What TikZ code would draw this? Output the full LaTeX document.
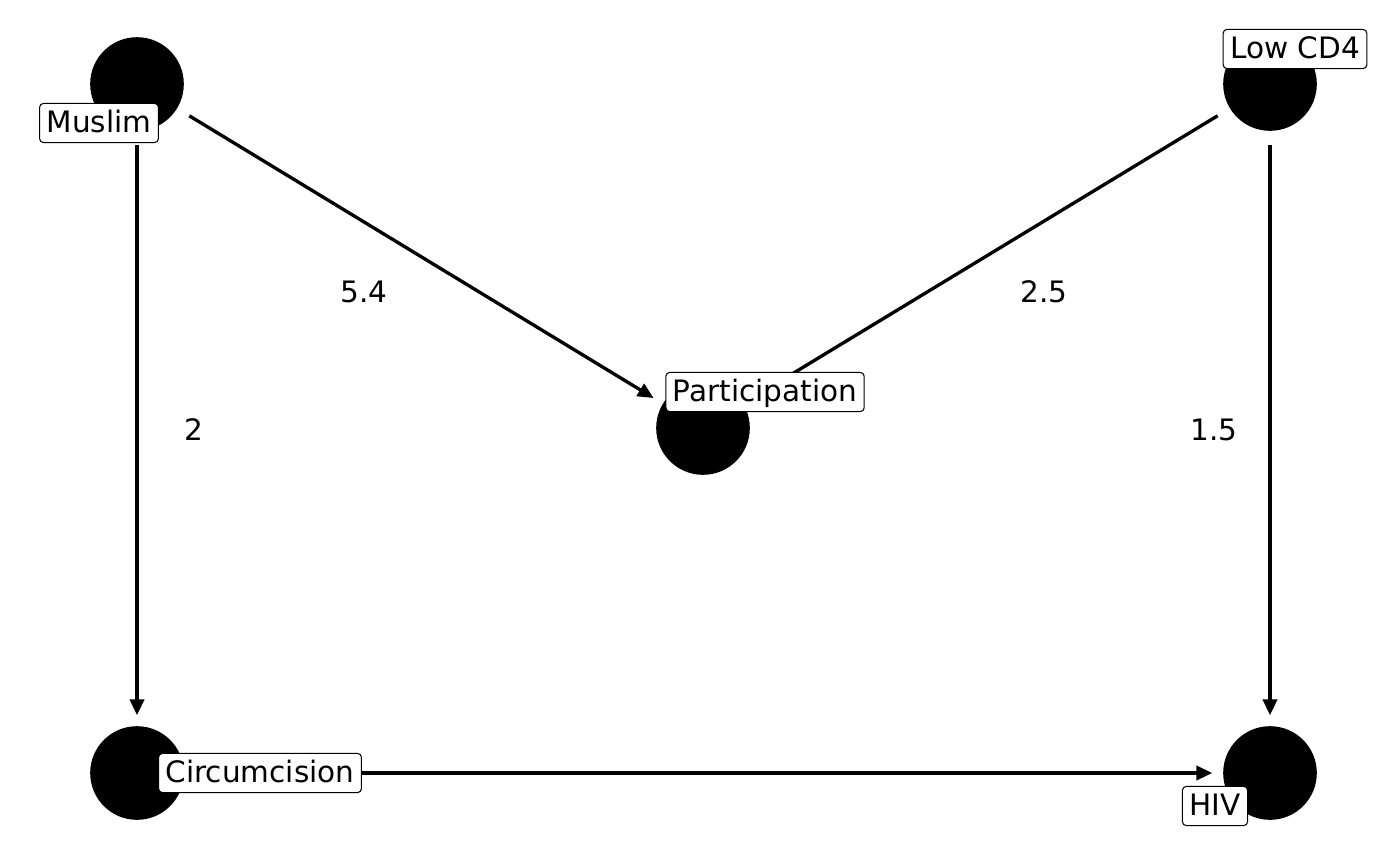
\documentclass[tikz,border=0pt]{standalone}
\usepackage{fontspec}
\setmainfont{DejaVu Sans}
\usetikzlibrary{arrows.meta}
\tikzset{
  dot/.style={circle,fill=black,minimum size=53.3pt,inner sep=0pt},
  tag/.style={draw,fill=white,rounded corners=2.2pt,line width=0.6pt,inner xsep=4pt,inner ysep=2.5pt,text height=14pt,text depth=3.3pt},
  edge/.style={line width=1.9pt,-{Triangle[length=9pt,width=8pt]},shorten <=8pt,shorten >=6pt},
  weight/.style={inner sep=0pt}
}
\begin{document}
\begin{tikzpicture}[x=0.02cm,y=-0.02cm,font=\fontsize{16.8}{20}\selectfont]
\useasboundingbox (0,0) rectangle (1400,866);
% circles
\node[dot] (muslim) at (137,84) {};
\node[dot] (cd4) at (1270,84) {};
\node[dot] (part) at (703,428) {};
\node[dot] (circ) at (137,773) {};
\node[dot] (hiv) at (1270,773) {};
% paths
\draw[edge] (muslim) -- (part);
\draw[edge] (cd4) -- (part);
\draw[edge] (muslim) -- (circ);
\draw[edge] (cd4) -- (hiv);
\draw[edge] (circ) -- (hiv);
% estimates
\node[weight] (w1) at (364,292) {5.4};
\node[weight] (w2) at (1044,292) {2.5};
\node[weight] (w3) at (194,430) {2};
\node[weight] (w4) at (1214,430) {1.5};
% labels on top
\node[tag] (lmuslim) at (99,123) {Muslim};
\node[tag] (lcd4) at (1295,49) {Low CD4};
\node[tag] (lpart) at (765,392) {Participation};
\node[tag] (lcirc) at (260,773) {Circumcision};
\node[tag] (lhiv) at (1215,806) {HIV};
\end{tikzpicture}
\end{document}
